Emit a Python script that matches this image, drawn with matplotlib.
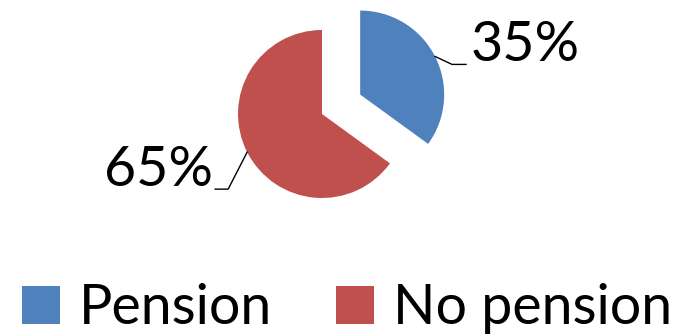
import matplotlib
matplotlib.use("Agg")
import matplotlib.pyplot as plt
from matplotlib.lines import Line2D
import numpy as np

labels = ["Pension", "No pension"]
shares = [35, 65]
colors = ["#4F81BD", "#C0504D"]
explode = [0.51, 0.0]

W, H = 699, 334
PX = 84.0                      # pixels per pie radius
CX, CY = 322, 114              # pie centre in pixels (from top-left)

plt.rcParams["font.family"] = ["Lato", "DejaVu Sans"]

fig = plt.figure(figsize=(W / 100, H / 100), dpi=100)
ax = fig.add_axes([0, 0, 1, 1])

wedges, _ = ax.pie(shares, colors=colors, explode=explode, startangle=90,
                   counterclock=False, radius=1.0,
                   wedgeprops=dict(linewidth=0))
# pie() resets the limits, so put them back afterwards
ax.set_xlim(-CX / PX, (W - CX) / PX)
ax.set_ylim(-(H - CY) / PX, CY / PX)
ax.axis("off")

# leader lines + labels (offsets in pixels)
legs = [((17, -8), 14, (5, 19), "left"),
        ((-19, -37), -13, (-2, 19), "right")]
for w, s, (el, hz, toff, ha) in zip(wedges, shares, legs):
    th = np.deg2rad((w.theta1 + w.theta2) / 2)
    x0 = w.center[0] + np.cos(th)
    y0 = w.center[1] + np.sin(th)
    x1, y1 = x0 + el[0] / PX, y0 + el[1] / PX
    x2 = x1 + hz / PX
    ax.plot([x0, x1, x2], [y0, y1, y1], color="black", lw=1)
    ax.text(x2 + toff[0] / PX, y1 + toff[1] / PX, f"{s}%", ha=ha, va="center",
            fontsize=40)

handles = [Line2D([], [], marker="s", ls="none", markersize=27,
                  markerfacecolor=c, markeredgewidth=0) for c in colors]
fig.legend(handles, labels, loc="center left", bbox_to_anchor=(0.019, 0.075),
           ncol=2, frameon=False, fontsize=40, handletextpad=0.18,
           columnspacing=1.0, handlelength=1.0, borderaxespad=0,
           borderpad=0)

fig.savefig("out.png", dpi=100)
